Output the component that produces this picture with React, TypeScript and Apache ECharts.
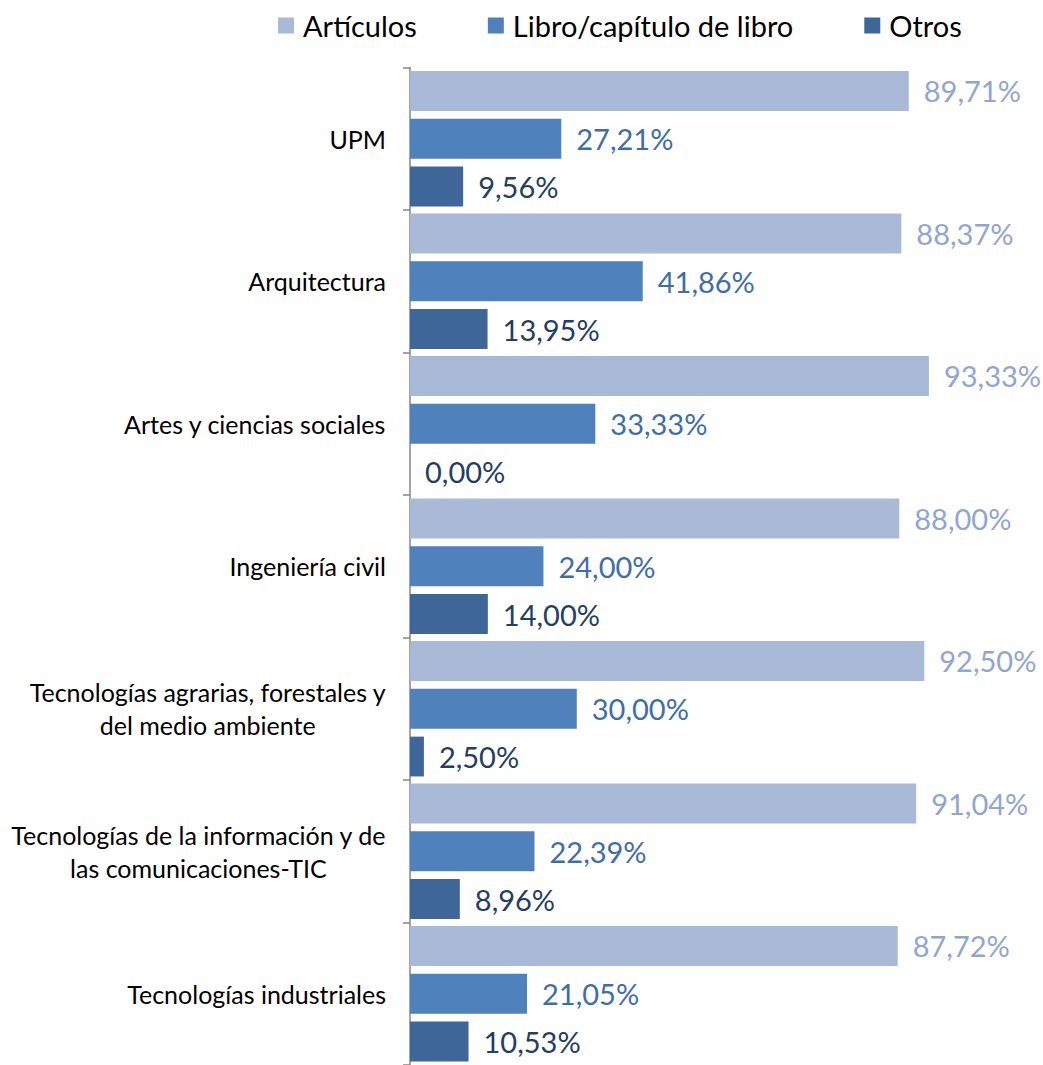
import React, { useEffect, useRef } from "react";
import * as echarts from "echarts";

const categories = [
  "UPM",
  "Arquitectura",
  "Artes y ciencias sociales",
  "Ingeniería civil",
  "Tecnologías agrarias, forestales y\ndel medio ambiente",
  "Tecnologías de la información y de\nlas comunicaciones-TIC",
  "Tecnologías industriales",
];
const seriesNames = ["Artículos", "Libro/capítulo de libro", "Otros"];
const articulos = [89.71, 88.37, 93.33, 88.0, 92.5, 91.04, 87.72];
const libro = [27.21, 41.86, 33.33, 24.0, 30.0, 22.39, 21.05];
const otros = [9.56, 13.95, 0.0, 14.0, 2.5, 8.96, 10.53];

const barColors = ["#A9B9D8", "#4F81BD", "#3E6698"];
const labelColors = ["#8FA6CF", "#3F6DA8", "#243D63"];
const FONT = "Lato";

export default function App() {
  const ref = useRef<HTMLDivElement>(null);
  useEffect(() => {
    if (!ref.current) return;
    const chart = echarts.init(ref.current, undefined, { renderer: "svg" });
    const datas = [articulos, libro, otros];
    chart.setOption({
      animation: false,
      backgroundColor: "#ffffff",
      legend: {
        top: 6,
        left: 273,
        itemWidth: 16,
        itemHeight: 16,
        itemGap: 71,
        icon: "rect",
        textStyle: { fontFamily: FONT, fontSize: 29, color: "#000", padding: [0, 0, 0, 4] },
        data: seriesNames,
      },
      grid: { left: 410, top: 67.5, width: 556, height: 1003 },
      xAxis: {
        type: "value",
        min: 0,
        max: 100,
        show: false,
      },
      yAxis: {
        type: "category",
        inverse: true,
        data: categories,
        axisLine: { show: true, lineStyle: { color: "#868686", width: 1.5 } },
        axisTick: { show: true, length: 7, lineStyle: { color: "#868686", width: 1.5 } },
        axisLabel: {
          margin: 24,
          fontFamily: FONT,
          fontSize: 25,
          color: "#000",
          formatter: (v: string) =>
            v
              .split("\n")
              .map((l) => "{c|" + l + "}")
              .join("\n"),
          rich: {
            c: { align: "center", fontFamily: FONT, fontSize: 25, color: "#000", lineHeight: 33 },
          },
        },
      },
      series: seriesNames.map((name, i) => ({
        name,
        type: "bar",
        data: datas[i],
        barGap: "20%",
        barCategoryGap: "5%",
        itemStyle: { color: barColors[i] },
        label: {
          show: true,
          position: "right",
          distance: 15,
          fontFamily: FONT,
          fontSize: 29,
          color: labelColors[i],
          formatter: (p: any) => p.value.toFixed(2).replace(".", ",") + "%",
        },
      })),
    });
    return () => chart.dispose();
  }, []);
  return (
    <div
      ref={ref}
      style={{ position: "fixed", left: 0, top: 0, width: 1043, height: 1065, background: "#fff" }}
    />
  );
}
